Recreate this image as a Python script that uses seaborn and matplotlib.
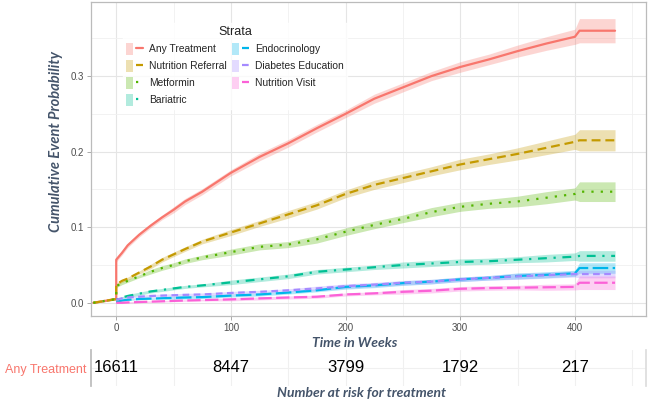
import numpy as np
import pandas as pd
import matplotlib
matplotlib.use("Agg")
import matplotlib.pyplot as plt
import seaborn as sns
from matplotlib.patches import Patch
from matplotlib.lines import Line2D
from matplotlib.legend_handler import HandlerTuple

# ---------------- data ----------------
weeks = [-20, 0, 0, 5, 10, 20, 30, 40, 50, 60, 75, 100, 125, 150, 175, 200,
         225, 250, 275, 300, 325, 350, 375, 400, 404, 435]

strata = ["Any Treatment", "Nutrition Referral", "Metformin", "Bariatric",
          "Endocrinology", "Diabetes Education", "Nutrition Visit"]

any_treatment = [0.0, 0.005, 0.057, 0.066, 0.076, 0.090, 0.102, 0.113, 0.123, 0.134, 0.147,
                 0.172, 0.193, 0.211, 0.231, 0.250, 0.270, 0.285, 0.300, 0.312, 0.322,
                 0.333, 0.343, 0.352, 0.360, 0.360]
nutrition_referral = [0.0, 0.005, 0.024, 0.029, 0.032, 0.040, 0.048, 0.057, 0.064, 0.071, 0.081,
                      0.093, 0.105, 0.117, 0.129, 0.144, 0.156, 0.165, 0.174, 0.183, 0.190,
                      0.197, 0.205, 0.213, 0.215, 0.215]
metformin = [0.0, 0.005, 0.022, 0.026, 0.029, 0.035, 0.041, 0.046, 0.050, 0.055, 0.060,
             0.067, 0.074, 0.077, 0.084, 0.094, 0.103, 0.111, 0.120, 0.127, 0.131,
             0.134, 0.139, 0.144, 0.147, 0.147]
bariatric = [None, None, 0.004, 0.007, 0.009, 0.012, 0.015, 0.017, 0.019, 0.021, 0.023,
             0.027, 0.031, 0.035, 0.041, 0.044, 0.047, 0.050, 0.052, 0.054, 0.055,
             0.057, 0.059, 0.061, 0.062, 0.062]
endocrinology = [None, None, 0.001, 0.003, 0.004, 0.005, 0.0055, 0.006, 0.0065, 0.007, 0.0075,
                 0.0095, 0.011, 0.0135, 0.0165, 0.021, 0.023, 0.026, 0.028, 0.031, 0.033,
                 0.0355, 0.037, 0.039, 0.046, 0.046]
diabetes_education = [None, None, 0.004, 0.006, 0.007, 0.008, 0.009, 0.0095, 0.010, 0.0105, 0.011,
                      0.013, 0.0145, 0.0165, 0.019, 0.022, 0.024, 0.0265, 0.028, 0.031, 0.033,
                      0.035, 0.0365, 0.038, 0.038, 0.038]
nutrition_visit = [None, None, 0.0, 0.0, 0.0005, 0.001, 0.0015, 0.002, 0.0025, 0.003, 0.0035,
                   0.0045, 0.0058, 0.007, 0.008, 0.011, 0.0125, 0.0145, 0.016, 0.0185, 0.0195,
                   0.020, 0.0205, 0.021, 0.0265, 0.0265]

# half-width of the confidence band
any_treatment_ci = [0.001, 0.001, 0.003, 0.003, 0.003, 0.003, 0.003, 0.003, 0.004, 0.004, 0.004,
                    0.004, 0.005, 0.005, 0.005, 0.005, 0.006, 0.006, 0.006, 0.007, 0.007,
                    0.008, 0.009, 0.010, 0.016, 0.016]
nutrition_referral_ci = [0.001, 0.001, 0.002, 0.002, 0.002, 0.002, 0.003, 0.003, 0.003, 0.003, 0.003,
                         0.004, 0.004, 0.005, 0.005, 0.005, 0.006, 0.006, 0.006, 0.007, 0.007,
                         0.008, 0.009, 0.010, 0.014, 0.014]
metformin_ci = [0.001, 0.001, 0.002, 0.002, 0.002, 0.002, 0.003, 0.003, 0.003, 0.003, 0.003,
                0.004, 0.004, 0.004, 0.005, 0.005, 0.005, 0.005, 0.006, 0.006, 0.006,
                0.007, 0.008, 0.008, 0.013, 0.013]
bariatric_ci = [None, None, 0.001, 0.001, 0.002, 0.002, 0.002, 0.002, 0.002, 0.002, 0.002,
                0.003, 0.003, 0.003, 0.003, 0.003, 0.003, 0.004, 0.004, 0.004, 0.004,
                0.004, 0.005, 0.005, 0.007, 0.007]
endocrinology_ci = [None, None, 0.001, 0.001, 0.001, 0.001, 0.001, 0.001, 0.002, 0.002, 0.002,
                    0.002, 0.002, 0.002, 0.002, 0.003, 0.003, 0.003, 0.003, 0.003, 0.003,
                    0.004, 0.004, 0.004, 0.007, 0.007]
diabetes_education_ci = [None, None, 0.001, 0.001, 0.001, 0.002, 0.002, 0.002, 0.002, 0.002, 0.002,
                         0.002, 0.002, 0.002, 0.003, 0.003, 0.003, 0.003, 0.003, 0.003, 0.003,
                         0.004, 0.004, 0.004, 0.005, 0.005]
nutrition_visit_ci = [None, None, 0.001, 0.001, 0.001, 0.001, 0.001, 0.001, 0.001, 0.001, 0.001,
                      0.002, 0.002, 0.002, 0.002, 0.002, 0.002, 0.003, 0.003, 0.003, 0.003,
                      0.003, 0.004, 0.004, 0.009, 0.009]

risk_weeks = [0, 100, 200, 300, 400]
risk_counts = [16611, 8447, 3799, 1792, 217]
risk_label = "Any Treatment"

x_ticks = [0, 100, 200, 300, 400]
y_ticks = [0.0, 0.1, 0.2, 0.3]

# ---------------- styles ----------------
colors = {"Any Treatment": "#F8766D", "Nutrition Referral": "#C49A00",
          "Metformin": "#53B400", "Bariatric": "#00C094",
          "Endocrinology": "#00B6EB", "Diabetes Education": "#A58AFF",
          "Nutrition Visit": "#FB61D7"}
dashes = {"Any Treatment": "", "Nutrition Referral": (4, 2.2),
          "Metformin": (1, 3.2), "Bariatric": (1, 3, 4, 3),
          "Endocrinology": (7, 2), "Diabetes Education": (3, 2),
          "Nutrition Visit": (6, 2)}

values = [any_treatment, nutrition_referral, metformin, bariatric,
          endocrinology, diabetes_education, nutrition_visit]
cis = [any_treatment_ci, nutrition_referral_ci, metformin_ci, bariatric_ci,
       endocrinology_ci, diabetes_education_ci, nutrition_visit_ci]

rows = []
for name, v, c in zip(strata, values, cis):
    for t, p, h in zip(weeks, v, c):
        if p is None:
            continue
        rows.append({"weeks": t, "prob": p, "lo": p - h, "hi": p + h, "strata": name})
df = pd.DataFrame(rows)

sns.set_theme(style="white")
plt.rcParams["font.family"] = ["Liberation Sans", "DejaVu Sans"]

fig = plt.figure(figsize=(6.49, 4.04), dpi=100)
ax = fig.add_axes([91 / 649, 1 - 316 / 404, 555 / 649, 314 / 404])
ax2 = fig.add_axes([91 / 649, 1 - 386 / 404, 555 / 649, 36 / 404])

LW = 1.6
# ribbons
for name in strata:
    sub = df[df.strata == name]
    ax.fill_between(sub["weeks"], sub["lo"], sub["hi"], color=colors[name],
                    alpha=0.3, linewidth=0)

sns.lineplot(data=df, x="weeks", y="prob", hue="strata", style="strata",
             hue_order=strata, style_order=strata, palette=colors, dashes=dashes,
             estimator=None, sort=True, linewidth=LW, legend=False, ax=ax)

grid_c = "#E5E5E5"
ax.set_xlim(-22, 462)
ax.set_ylim(-0.0175, 0.398)
ax.set_xticks(x_ticks)
ax.set_yticks(y_ticks)
ax.set_yticklabels([f"{v:.1f}" for v in y_ticks])
ax.set_xticks([50, 150, 250, 350, 450], minor=True)
ax.set_yticks([0.05, 0.15, 0.25, 0.35], minor=True)
ax.grid(True, which="major", color=grid_c, linewidth=0.8)
ax.grid(True, which="minor", color="#F0F0F0", linewidth=0.6)
ax.set_axisbelow(True)
for s in ax.spines.values():
    s.set_color("#BBBBBB")
    s.set_linewidth(0.9)
ax.tick_params(axis="both", which="major", length=3, width=0.7, color="#AAAAAA",
               labelsize=7, labelcolor="#4D4D4D", pad=2, bottom=True, left=True)
ax.tick_params(axis="both", which="minor", length=0)
ax.set_xlabel("")
ax.set_ylabel("")

# legend
handles = []
for name in strata:
    patch = Patch(facecolor=colors[name], alpha=0.3, edgecolor="none")
    ls = "-" if dashes[name] == "" else (0, dashes[name])
    line = Line2D([], [], color=colors[name], linewidth=LW, linestyle=ls)
    handles.append((patch, line))
leg = ax.legend(handles, strata, handler_map={tuple: HandlerTuple(ndivide=None)},
                ncol=2, loc="upper left", bbox_to_anchor=(0.058, 0.932),
                title="Strata", fontsize=7.4, title_fontsize=9,
                handlelength=1.7, handleheight=1.4, labelspacing=0.5,
                handletextpad=0.6, columnspacing=0.45, borderpad=0.25,
                frameon=True, fancybox=False, borderaxespad=0)
leg.get_frame().set_facecolor("white")
leg.get_frame().set_edgecolor("white")
leg.get_title().set_color("#222222")

# risk table
ax2.set_xlim(ax.get_xlim())
ax2.set_ylim(-1, 1)
for t, n in zip(risk_weeks, risk_counts):
    ax2.text(t, 0, str(n), ha="center", va="center", fontsize=12, color="black")
ax2.set_xticks([0, 50, 100, 150, 200, 250, 300, 350, 400, 450])
ax2.set_xticklabels([])
ax2.set_yticks([0])
ax2.set_yticklabels([risk_label])
ax2.tick_params(axis="y", length=0, labelsize=9, labelcolor="#F8766D", pad=3)
ax2.tick_params(axis="x", length=0)
ax2.grid(True, axis="both", color="#F0F0F0", linewidth=0.8)
ax2.spines["top"].set_visible(False)
ax2.spines["bottom"].set_visible(False)
ax2.spines["left"].set_color("#BBBBBB")
ax2.spines["right"].set_color("#DDDDDD")

lab_font = dict(family=["Lato", "DejaVu Sans"], fontweight="bold", style="italic",
                color="#44546A")
fig.text(56 / 649, 1 - 141 / 404, "Cumulative Event Probability", rotation=90,
         ha="center", va="center", fontsize=10.5, **lab_font)
fig.text(355 / 649, 1 - 343 / 404, "Time in Weeks", ha="center", va="center",
         fontsize=10, **lab_font)
fig.text(362 / 649, 1 - 393 / 404, "Number at risk for treatment", ha="center",
         va="center", fontsize=10, **lab_font)

fig.savefig("out.png", dpi=100, facecolor="white")
